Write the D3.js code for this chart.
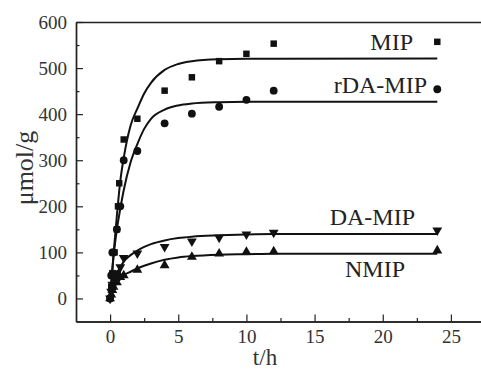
<!DOCTYPE html>
<html>
<head>
<meta charset="utf-8">
<script src="https://cdn.jsdelivr.net/npm/d3@7"></script>
<style>
  body { margin: 0; background: #fff; }
  svg { display: block; font-family: "Liberation Serif", "Times New Roman", serif; }
</style>
</head>
<body>
<svg id="chart"></svg>
<script>
// measured points (t in h, q in umol/g)
const MIP_T = [0, 0.083, 0.167, 0.33, 0.5, 0.58, 0.67, 1, 2, 4, 6, 8, 10, 12, 24];
const MIP_Q = [0, 25, 55, 100, 150, 200, 250, 345, 390, 451, 480, 515, 531, 553, 557];
const RDA_T = [0, 0.083, 0.167, 0.25, 0.5, 0.75, 1, 2, 4, 6, 8, 10, 12, 24];
const RDA_Q = [0, 50, 100, 100, 150, 200, 300, 320, 380, 401, 416, 431, 451, 454];
const DA_T = [0, 0.083, 0.167, 0.25, 0.5, 0.75, 1, 2, 4, 6, 8, 10, 12, 24];
const DA_Q = [0, 15, 30, 45, 55, 68, 88, 98, 112, 124, 132, 139, 143, 148];
const NMIP_T = [0, 0.083, 0.167, 0.25, 0.5, 0.75, 1, 2, 4, 6, 8, 10, 12, 24];
const NMIP_Q = [0, 8, 18, 25, 35, 46, 50, 62, 72, 90, 97, 101, 102, 104];

// fitted curves
const FIT_T = [0, 0.25, 0.5, 0.75, 1, 1.5, 2, 2.5, 3, 4, 5, 6, 8, 10, 12, 24];
const FIT_MIP = [0, 95, 180, 255, 305, 375, 412, 445, 468, 496, 509, 515, 519, 520, 520, 521];
const FIT_RDA = [0, 90, 150, 195, 235, 295, 335, 368, 390, 410, 419, 423, 426, 427, 427, 427];
const FIT_DA = [0, 35, 55, 68, 80, 94, 104, 112, 118, 126, 131, 134, 137, 139, 140, 140];
const FIT_NMIP = [0, 22, 33, 42, 50, 58, 65, 71, 76, 84, 89, 92, 95, 96, 97, 97];

const SERIES_NAMES = ['MIP', 'rDA-MIP', 'DA-MIP', 'NMIP'];
const X_TICKS = [0, 5, 10, 15, 20, 25];
const Y_TICKS = [0, 100, 200, 300, 400, 500, 600];

const WIDTH = 481, HEIGHT = 376;
const PLOT = {left: 76, top: 22, bottom: 321.5, right: 485};

const svg = d3.select('#chart').attr('width', WIDTH).attr('height', HEIGHT);

const x = d3.scaleLinear().domain([-2.5, 27.5]).range([PLOT.left, PLOT.right]);
const y = d3.scaleLinear().domain([-50, 600]).range([PLOT.bottom, PLOT.top]);

const AXIS_COLOR = '#222';

// axes, ticks point inward
svg.append('g').attr('transform', `translate(0,${PLOT.bottom})`)
    .call(d3.axisBottom(x).tickValues(X_TICKS).tickSize(-7).tickSizeOuter(0).tickPadding(8));
svg.append('g').attr('transform', `translate(0,${PLOT.bottom})`)
    .call(d3.axisBottom(x).tickValues(d3.range(2.5, 25, 5)).tickSize(-3.5).tickSizeOuter(0).tickFormat(''));
svg.append('g').attr('transform', `translate(${PLOT.left},0)`)
    .call(d3.axisLeft(y).tickValues(Y_TICKS).tickSize(-7).tickSizeOuter(0).tickPadding(9));
svg.append('g').attr('transform', `translate(${PLOT.left},0)`)
    .call(d3.axisLeft(y).tickValues(d3.range(50, 600, 100)).tickSize(-3.5).tickSizeOuter(0).tickFormat(''));
svg.append('g').attr('transform', `translate(0,${PLOT.top})`)
    .call(d3.axisTop(x).tickValues([]).tickSizeOuter(0));

svg.selectAll('.domain').attr('stroke', AXIS_COLOR).attr('stroke-width', 1.4);
svg.selectAll('.tick line').attr('stroke', AXIS_COLOR).attr('stroke-width', 1.2);
svg.selectAll('.tick text').attr('font-family', '"Liberation Serif", serif')
    .attr('font-size', 19).attr('fill', '#333');

// axis titles
svg.append('text')
    .attr('x', 265).attr('y', 365)
    .attr('text-anchor', 'middle')
    .attr('font-size', 23).attr('fill', '#333')
    .text('t/h');
svg.append('text')
    .attr('transform', 'translate(33,168) rotate(-90)')
    .attr('text-anchor', 'middle')
    .attr('font-size', 26).attr('fill', '#333')
    .text('μmol/g');

// fitted lines
const line = d3.line().x(d => x(d[0])).y(d => y(d[1])).curve(d3.curveMonotoneX);
[FIT_MIP, FIT_RDA, FIT_DA, FIT_NMIP].forEach(fit => {
    svg.append('path')
        .datum(FIT_T.map((t, i) => [t, fit[i]]))
        .attr('d', line)
        .attr('fill', 'none')
        .attr('stroke', '#111')
        .attr('stroke-width', 2);
});

// markers
const zip = (ts, qs) => ts.map((t, i) => [t, qs[i]]);
const markers = [
    {pts: zip(MIP_T, MIP_Q), sym: d3.symbolSquare, size: 42, rot: 0},
    {pts: zip(RDA_T, RDA_Q), sym: d3.symbolCircle, size: 48, rot: 0},
    {pts: zip(DA_T, DA_Q), sym: d3.symbolTriangle, size: 42, rot: 180},
    {pts: zip(NMIP_T, NMIP_Q), sym: d3.symbolTriangle, size: 42, rot: 0},
];
markers.forEach(m => {
    svg.append('g').selectAll('path')
        .data(m.pts)
        .enter()
        .append('path')
        .attr('d', d3.symbol().type(m.sym).size(m.size))
        .attr('transform', d => `translate(${x(d[0])},${y(d[1])}) rotate(${m.rot})`)
        .attr('fill', '#111');
});

// series labels
const LABEL_POS = [
    {x: 413, y: 50},
    {x: 427, y: 93},
    {x: 415, y: 225},
    {x: 405, y: 277},
];
svg.append('g').selectAll('text')
    .data(SERIES_NAMES)
    .enter()
    .append('text')
    .attr('x', (d, i) => LABEL_POS[i].x)
    .attr('y', (d, i) => LABEL_POS[i].y)
    .attr('text-anchor', 'end')
    .attr('font-size', 24)
    .attr('fill', '#222')
    .text(d => d);
</script>
</body>
</html>
